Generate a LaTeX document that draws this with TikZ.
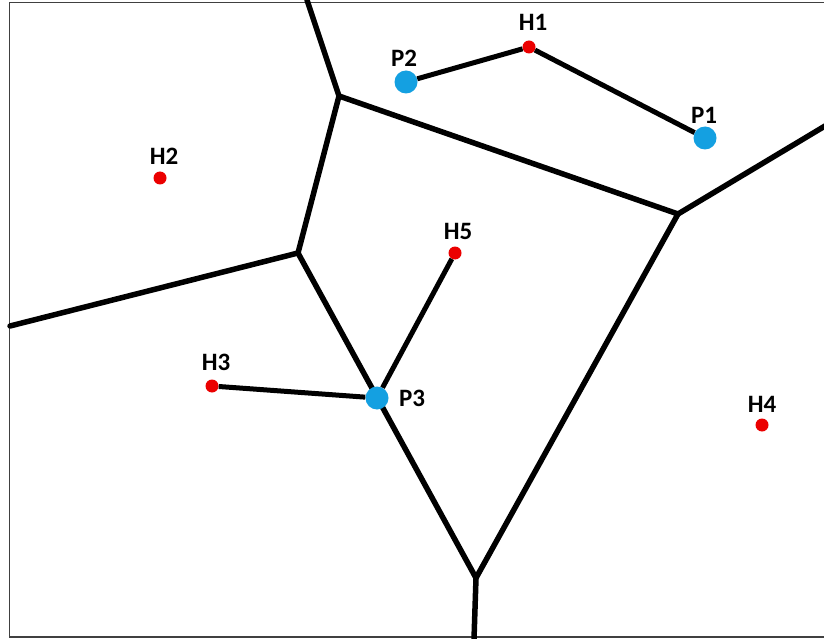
\documentclass[tikz,border=0pt]{standalone}
\usepackage{fontspec}
\setmainfont{Carlito}
\definecolor{dotblue}{RGB}{20,160,225}
\definecolor{dotred}{RGB}{235,0,0}
\tikzset{
  edge/.style={line width=5.5pt, line cap=round, line join=round, black},
  link/.style={line width=5pt, black},
  house/.style={circle, fill=dotred, inner sep=0pt, minimum size=13pt},
  plant/.style={circle, fill=dotblue, inner sep=0pt, minimum size=23pt},
  lbl/.style={font=\fontsize{25}{25}\selectfont\bfseries, inner sep=0pt}
}
\begin{document}
\begin{tikzpicture}[x=1pt,y=-1pt]
\useasboundingbox (0,0) rectangle (824,639);
\fill[white] (0,0) rectangle (824,639);
\draw[line width=1.6pt, black!75] (840,2.5) -- (9.5,2.5) -- (9.5,637) -- (840,637);
% Voronoi vertices
\coordinate (t) at (307,0);
\coordinate (a) at (339,96);
\coordinate (b) at (678,214);
\coordinate (c) at (298,253);
\coordinate (d) at (476,578);
\coordinate (l) at (10,326);
\coordinate (r) at (830,123);
\coordinate (s) at (474,639);
\draw[edge] (t) -- (a) -- (b) -- (d) -- (c) -- (a);
\draw[edge] (c) -- (l);
\draw[edge] (b) -- (r);
\draw[edge] (d) -- (s);
% sites
\node[house] (H1) at (529,47) {};
\node[house] (H2) at (160,178) {};
\node[house] (H3) at (212,386) {};
\node[house] (H4) at (762,425) {};
\node[house] (H5) at (455,253) {};
\node[plant] (P1) at (705,138) {};
\node[plant] (P2) at (406,82) {};
\node[plant] (P3) at (377,398) {};
\draw[link] (P2) -- (H1) -- (P1);
\draw[link] (H3) -- (P3);
\draw[link] (H5) -- (P3);
\node[lbl] (lH1) at (533,22) {H1};
\node[lbl] (lH2) at (164,156) {H2};
\node[lbl] (lH3) at (216,362) {H3};
\node[lbl] (lH4) at (762,404) {H4};
\node[lbl] (lH5) at (458,231) {H5};
\node[lbl] (lP1) at (704,115) {P1};
\node[lbl] (lP2) at (404,58) {P2};
\node[lbl] (lP3) at (412,398) {P3};
\end{tikzpicture}
\end{document}
